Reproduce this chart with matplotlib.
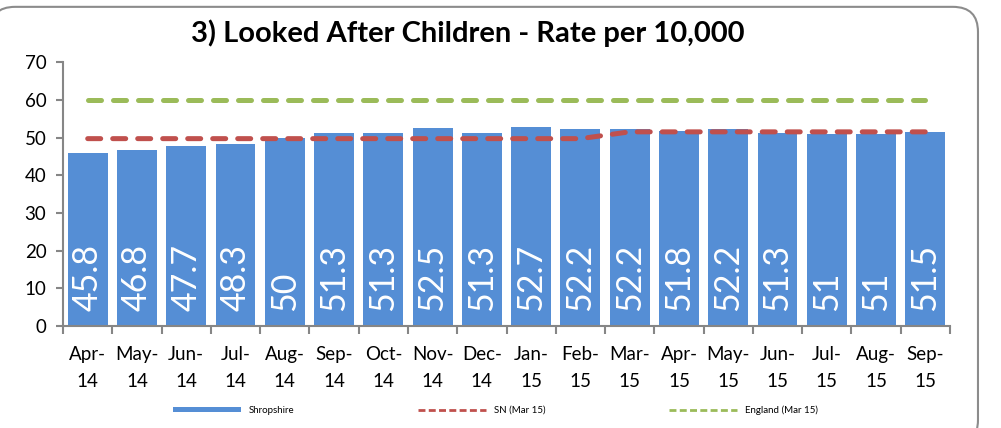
#!/usr/bin/env python3
"""Looked After Children - rate per 10,000 (Shropshire vs SN and England)."""

import numpy as np
import matplotlib
matplotlib.use('Agg')
import matplotlib.pyplot as plt
from matplotlib.patches import FancyBboxPatch
from matplotlib.lines import Line2D

# ── Data ────────────────────────────────────────────────────────────
MONTHS = ['Apr-\n14', 'May-\n14', 'Jun-\n14', 'Jul-\n14', 'Aug-\n14', 'Sep-\n14',
          'Oct-\n14', 'Nov-\n14', 'Dec-\n14', 'Jan-\n15', 'Feb-\n15', 'Mar-\n15',
          'Apr-\n15', 'May-\n15', 'Jun-\n15', 'Jul-\n15', 'Aug-\n15', 'Sep-\n15']
SHROPSHIRE = [45.8, 46.8, 47.7, 48.3, 50, 51.3, 51.3, 52.5, 51.3, 52.7, 52.2, 52.2,
              51.8, 52.2, 51.3, 51, 51, 51.5]
SN = [49.7] * 11 + [51.5] * 7
ENGLAND = [60] * 18

plt.rcParams['font.family'] = ['Lato', 'DejaVu Sans']

BAR_COLOR = '#558ED5'
SN_COLOR = '#C0504D'
ENG_COLOR = '#9BBB59'
AXIS_GREY = '#868686'

fig = plt.figure(figsize=(10.01, 4.28), dpi=100)
border = FancyBboxPatch((-0.01, -0.04), 0.987, 1.024,
                        boxstyle='round,pad=0,rounding_size=0.025',
                        transform=fig.transFigure, facecolor='white',
                        edgecolor='#8C8C8C', linewidth=1.5, mutation_aspect=2.34,
                        zorder=-10)
fig.patches.append(border)

ax = fig.add_axes([0.063, 0.238, 0.886, 0.617])
ax.set_facecolor('none')
x = np.arange(len(MONTHS))

bars = ax.bar(x, SHROPSHIRE, width=0.81, color=BAR_COLOR, label='Shropshire', zorder=2)
ax.plot(x, SN, color=SN_COLOR, linewidth=3.6, dashes=(2.6, 2.4),
        dash_capstyle='round', zorder=3)
ax.plot(x, ENGLAND, color=ENG_COLOR, linewidth=3.6, dashes=(2.6, 2.4),
        dash_capstyle='round', zorder=3)

for xi, v in zip(x, SHROPSHIRE):
    ax.text(xi, 4.0, f'{v:g}', rotation=90, ha='center', va='bottom',
            color='white', fontsize=24.5, zorder=4)

ax.set_xlim(-0.5, len(MONTHS) - 0.5)
ax.set_ylim(0, 70)
ax.set_yticks(range(0, 71, 10))
ax.set_xticks(x)
ax.set_xticklabels(MONTHS, fontsize=13.5, linespacing=1.75)
ax.set_xticks(np.arange(-0.5, len(MONTHS)), minor=True)
ax.tick_params(axis='x', which='major', length=0, pad=14)
ax.tick_params(axis='x', which='minor', length=6, width=1.5, color=AXIS_GREY, direction='out')
ax.tick_params(axis='y', length=5, width=1.5, color=AXIS_GREY, labelsize=13.5, pad=7)

for side in ['top', 'right']:
    ax.spines[side].set_visible(False)
for side in ['left', 'bottom']:
    ax.spines[side].set_color(AXIS_GREY)
    ax.spines[side].set_linewidth(1.5)

fig.text(0.467, 0.923, '3) Looked After Children - Rate per 10,000', fontsize=21,
         fontweight='bold', ha='center', va='center')

handles = [bars,
           Line2D([], [], color=SN_COLOR, linewidth=2, dashes=(2.5, 1.2)),
           Line2D([], [], color=ENG_COLOR, linewidth=2, dashes=(2.5, 1.2))]
labels = ['Shropshire', 'SN (Mar 15)', 'England (Mar 15)']
fig.legend(handles, labels, loc='lower center', bbox_to_anchor=(0.495, 0.01), ncol=3,
           frameon=False, fontsize=7, handlelength=7, columnspacing=12.7, handleheight=0.5)

fig.savefig('out.png', dpi=100)
